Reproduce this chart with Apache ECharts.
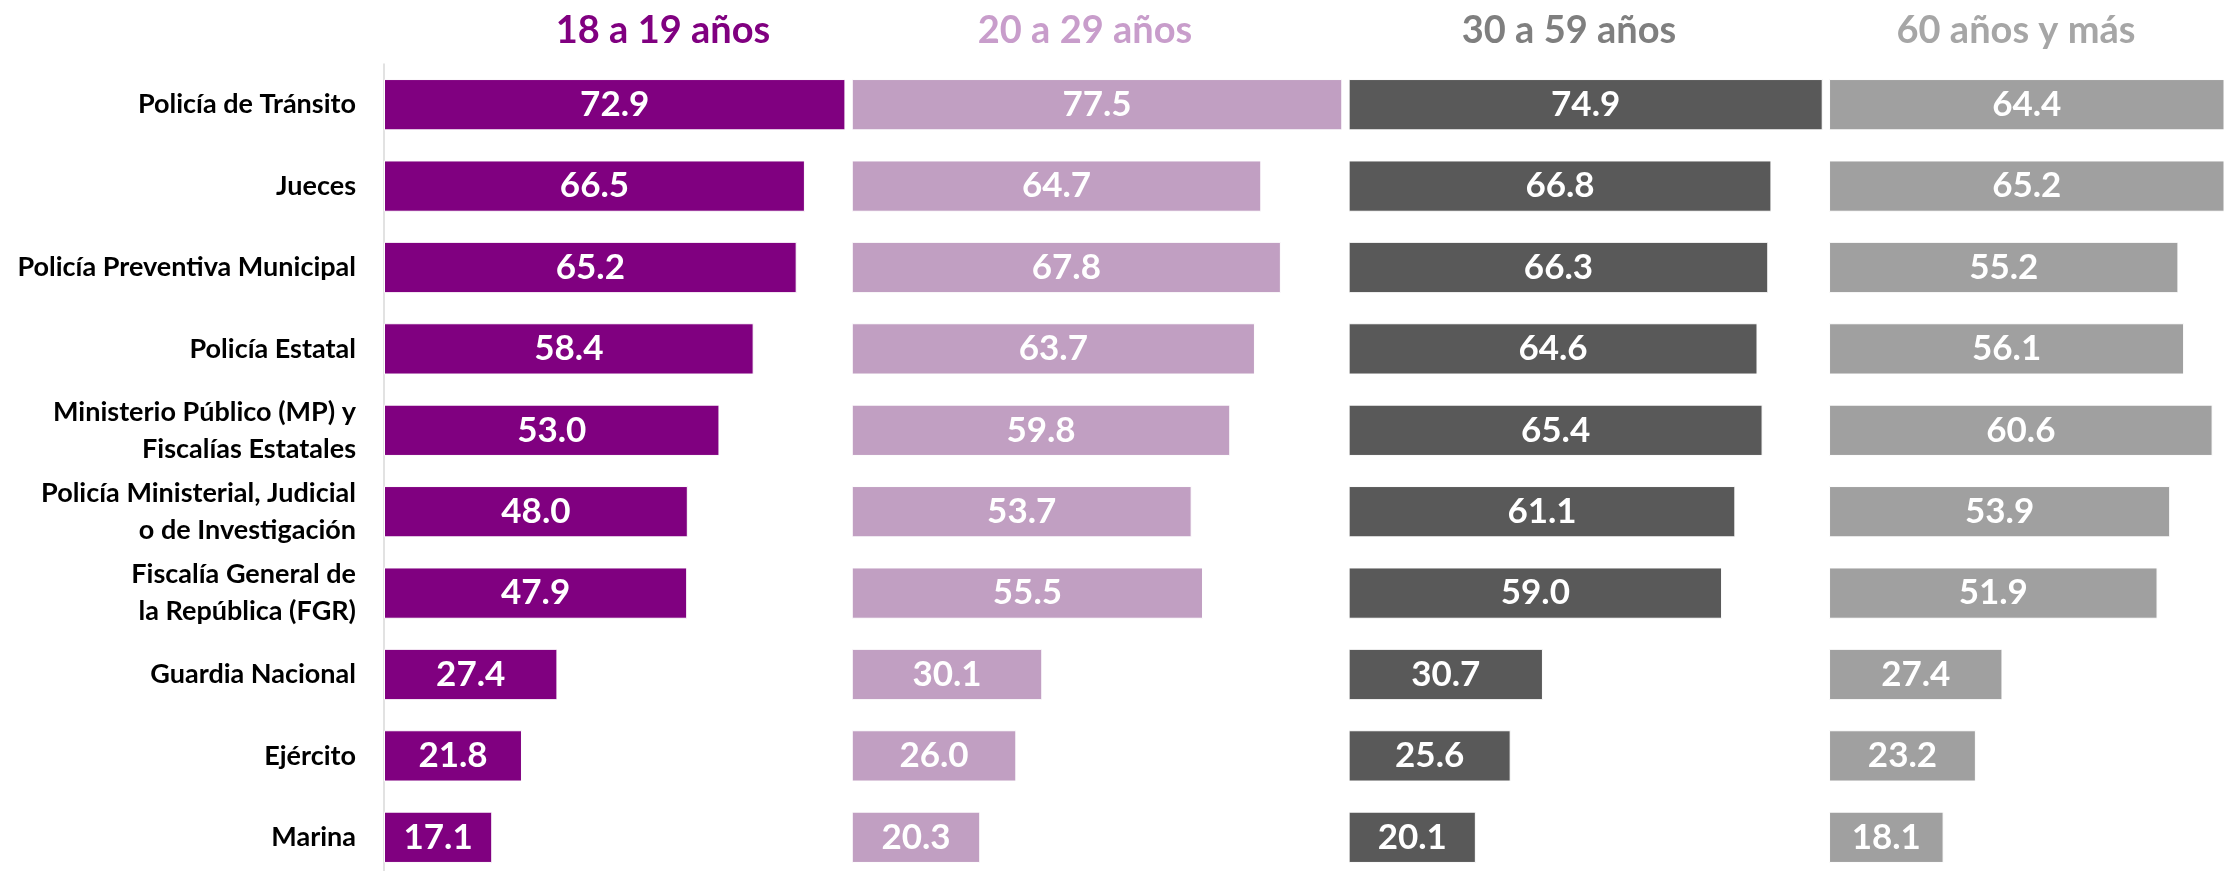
<!DOCTYPE html>
<html>
<head>
<meta charset="utf-8">
<script src="https://cdn.jsdelivr.net/npm/echarts@6/dist/echarts.min.js"></script>
<style>
  html, body { margin: 0; padding: 0; background: #fff; }
  #main { width: 2224px; height: 871px; }
</style>
</head>
<body>
<div id="main"></div>
<script>
var categorias = [
  'Policía de Tránsito',
  'Jueces',
  'Policía Preventiva Municipal',
  'Policía Estatal',
  'Ministerio Público (MP) y\nFiscalías Estatales',
  'Policía Ministerial, Judicial\no de Investigación',
  'Fiscalía General de\nla República (FGR)',
  'Guardia Nacional',
  'Ejército',
  'Marina'
];
var grupos = ['18 a 19 años', '20 a 29 años', '30 a 59 años', '60 años y más'];
var edad18a19 = [72.9, 66.5, 65.2, 58.4, 53.0, 48.0, 47.9, 27.4, 21.8, 17.1];
var edad20a29 = [77.5, 64.7, 67.8, 63.7, 59.8, 53.7, 55.5, 30.1, 26.0, 20.3];
var edad30a59 = [74.9, 66.8, 66.3, 64.6, 65.4, 61.1, 59.0, 30.7, 25.6, 20.1];
var edad60mas = [64.4, 65.2, 55.2, 56.1, 60.6, 53.9, 51.9, 27.4, 23.2, 18.1];

var valores = [edad18a19, edad20a29, edad30a59, edad60mas];
var colores = ['#800080', '#C19FC2', '#595959', '#A0A0A0'];
var coloresTitulo = ['#800080', '#C89DCB', '#7F7F7F', '#A6A6A6'];
var titulosX = [663, 1085, 1569, 2016];
var separacion = 1;
var fuente = "Lato, 'Open Sans', sans-serif";

var myChart = echarts.init(document.getElementById('main'));

// cada panel: barra visible + relleno transparente hasta el maximo del grupo
var series = [];
valores.forEach(function (datos, i) {
  series.push({
    name: grupos[i],
    type: 'bar',
    stack: 'total',
    barCategoryGap: '37%',
    data: datos,
    itemStyle: { color: colores[i], borderColor: '#fff', borderWidth: 1 },
    label: {
      show: true,
      position: 'inside',
      color: '#fff',
      fontFamily: fuente,
      fontWeight: 'bold',
      fontSize: 35,
      formatter: function (p) { return p.value.toFixed(1); }
    }
  });
  if (i < valores.length - 1) {
    var maximo = Math.max.apply(null, datos);
    series.push({
      type: 'bar',
      stack: 'total',
      silent: true,
      data: datos.map(function (v) { return +(maximo + separacion - v).toFixed(2); }),
      itemStyle: { color: 'transparent' },
      label: { show: false }
    });
  }
});

var option = {
  animation: false,
  grid: { left: 384, right: 0, top: 64, height: 814, outerBoundsMode: 'none' },
  xAxis: {
    type: 'value',
    min: 0,
    max: 290.7,
    show: false
  },
  yAxis: {
    type: 'category',
    inverse: true,
    data: categorias,
    axisTick: { show: false },
    axisLine: { show: true, lineStyle: { color: '#D9D9D9', width: 1.5 } },
    axisLabel: {
      margin: 28,
      color: '#000',
      fontFamily: fuente,
      fontWeight: 'bold',
      fontSize: 27,
      lineHeight: 37
    }
  },
  graphic: grupos.map(function (g, i) {
    return {
      type: 'text',
      x: titulosX[i],
      y: 31,
      style: {
        text: g,
        fill: coloresTitulo[i],
        font: 'bold 38px ' + fuente,
        textAlign: 'center',
        textVerticalAlign: 'middle'
      }
    };
  }),
  series: series
};

myChart.setOption(option);
</script>
</body>
</html>
